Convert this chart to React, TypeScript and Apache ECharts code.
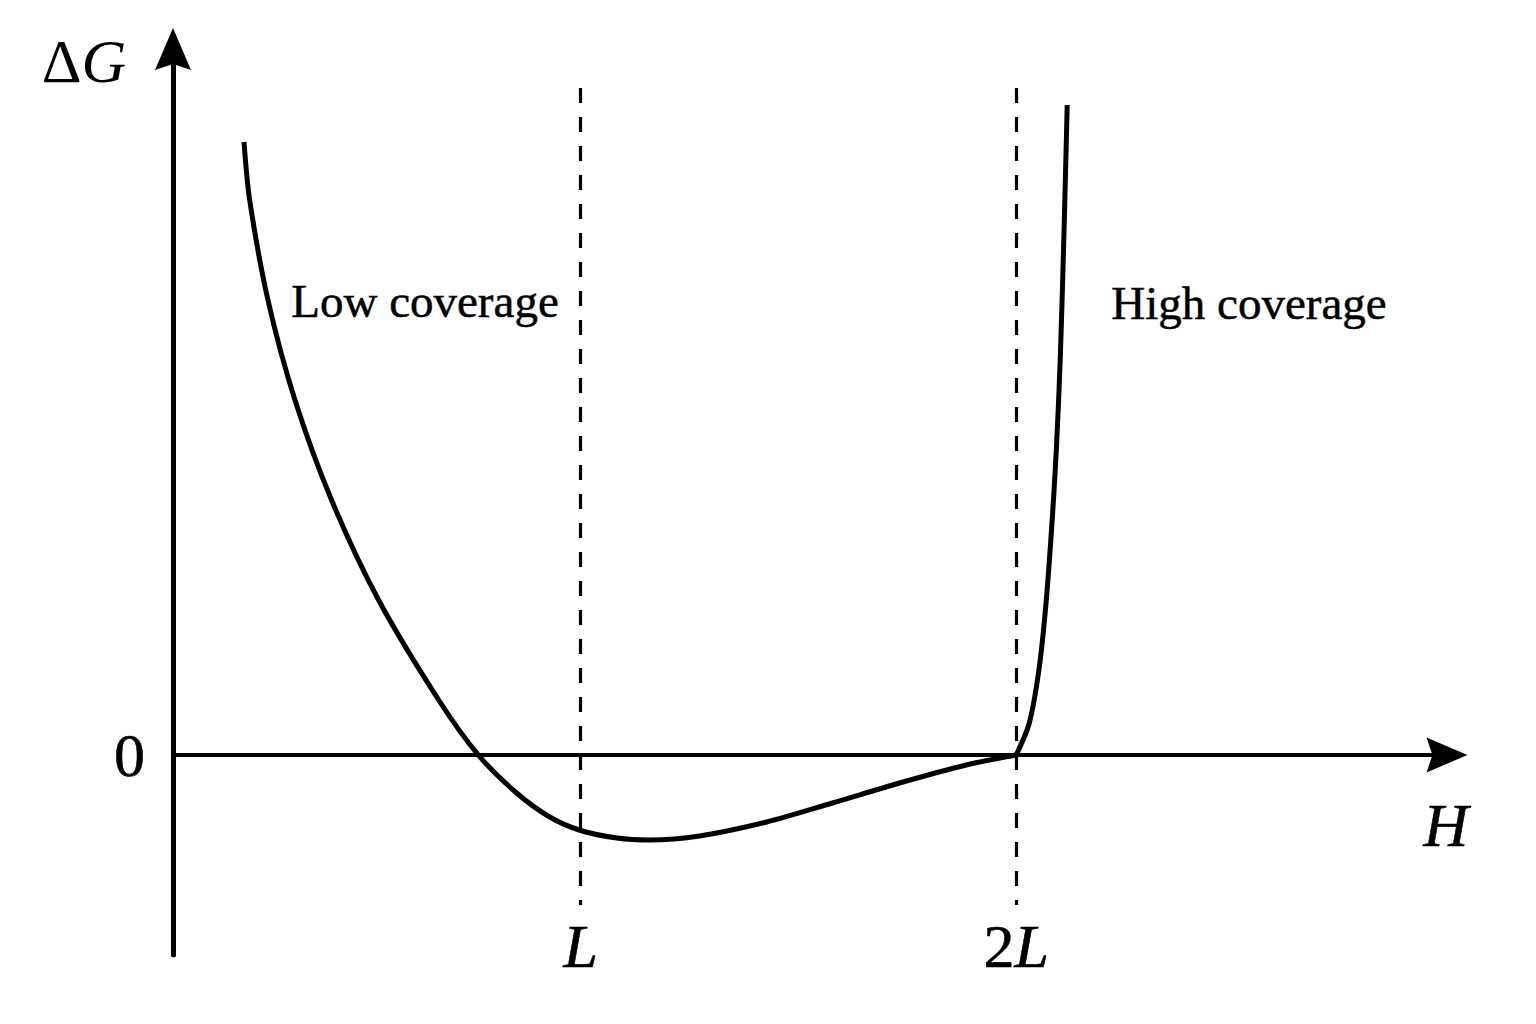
import React, { useEffect, useRef } from "react";
import * as echarts from "echarts";

// H measured in units of L, ΔG in arbitrary units (0 = axis)
const leftCurveH = [0.227, 0.24, 0.282, 0.344, 0.428, 0.536, 0.674, 0.765, 0.853, 0.929, 1.0, 1.083, 1.158, 1.273, 1.427, 1.578, 1.732, 1.885, 2.0];
const leftCurveG = [6.13, 5.55, 4.55, 3.55, 2.55, 1.55, 0.55, 0.0, -0.38, -0.62, -0.755, -0.83, -0.85, -0.81, -0.67, -0.48, -0.28, -0.1, 0.0];
const rightCurveH = [2.0, 2.03, 2.053, 2.069, 2.083, 2.092, 2.101, 2.11, 2.117];
const rightCurveG = [0.0, 0.32, 0.88, 1.55, 2.38, 3.05, 3.95, 5.28, 6.5];

const markerH = [1, 2];
const markerLabels = ["{i|L}", "{n|2}{i|L}"];
const dashTopG = 6.67;
const dashBottomG = -1.5;

const xMin = 0.064;
const xMax = 2.989;
const yMin = -2;
const yMax = 7.06;

const regionLabels = ["Low coverage", "High coverage"];

const FONT = "'Liberation Serif', 'Times New Roman', serif";

export default function App() {
  const ref = useRef<HTMLDivElement>(null);

  useEffect(() => {
    if (!ref.current) return;
    const chart = echarts.init(ref.current, null, { renderer: "svg" });

    const left = leftCurveH.map((h, i) => [h, leftCurveG[i]]);
    const right = rightCurveH.map((h, i) => [h, rightCurveG[i]]);

    const bold = { textBorderColor: "#000", textBorderWidth: 0.6 };

    const labelRich = {
      i: { fontFamily: FONT, fontSize: 62, fontStyle: "italic", color: "#000", ...bold },
      n: { fontFamily: FONT, fontSize: 62, color: "#000", ...bold },
    };

    const option: any = {
      animation: false,
      backgroundColor: "#ffffff",
      grid: { left: 173, right: 89, top: 49, bottom: 69, containLabel: false },
      xAxis: {
        type: "value",
        min: xMin,
        max: xMax,
        axisLine: {
          show: true,
          onZero: true,
          symbol: ["none", "path://M18,0 L36,42 L18,36 L0,42 Z"],
          symbolSize: [35, 41],
          lineStyle: { color: "#000", width: 4 },
        },
        axisTick: { show: false },
        axisLabel: { show: false },
        splitLine: { show: false },
      },
      yAxis: {
        type: "value",
        min: yMin,
        max: yMax,
        interval: 1,
        axisLine: {
          show: true,
          onZero: true,
          symbol: ["none", "path://M18,0 L36,42 L18,36 L0,42 Z"],
          symbolSize: [36, 42],
          lineStyle: { color: "#000", width: 5 },
        },
        axisTick: { show: false },
        axisLabel: {
          show: true,
          margin: 28,
          fontFamily: FONT,
          fontSize: 62,
          color: "#000",
          ...bold,
          showMinLabel: false,
          showMaxLabel: false,
          formatter: (v: number) => (v === 0 ? "0" : ""),
        },
        splitLine: { show: false },
      },
      series: [
        {
          type: "line",
          data: left,
          showSymbol: false,
          smooth: 0.3,
          lineStyle: { color: "#000", width: 5 },
          markLine: {
            silent: true,
            symbol: ["none", "none"],
            lineStyle: { color: "#000", width: 3.2, type: [15, 14] },
            label: {
              show: true,
              position: "end",
              distance: 10,
              rich: labelRich,
            },
            data: markerH.map((h, i) => [
              { coord: [h, dashTopG] },
              { coord: [h, dashBottomG], label: { formatter: markerLabels[i] } },
            ]),
          },
        },
        {
          type: "line",
          data: right,
          showSymbol: false,
          smooth: 0.3,
          lineStyle: { color: "#000", width: 5 },
        },
      ],
      graphic: [
        {
          type: "text",
          x: 84,
          y: 61,
          style: {
            text: "{a|Δ}{b|G}",
            align: "center",
            verticalAlign: "middle",
            rich: {
              a: { fontFamily: FONT, fontSize: 62, fill: "#000" },
              b: { fontFamily: FONT, fontSize: 62, fontStyle: "italic", fill: "#000" },
            },
          },
        },
        {
          type: "text",
          x: 1446,
          y: 825,
          style: {
            text: "H",
            fontFamily: FONT,
            fontSize: 62,
            fontStyle: "italic",
            fill: "#000",
            stroke: "#000",
            lineWidth: 0.6,
            align: "center",
            verticalAlign: "middle",
          },
        },
        {
          type: "text",
          x: 425,
          y: 301,
          style: {
            text: regionLabels[0],
            fontFamily: FONT,
            fontSize: 47,
            fill: "#000",
            stroke: "#000",
            lineWidth: 0.5,
            align: "center",
            verticalAlign: "middle",
          },
        },
        {
          type: "text",
          x: 1249,
          y: 303,
          style: {
            text: regionLabels[1],
            fontFamily: FONT,
            fontSize: 47,
            fill: "#000",
            stroke: "#000",
            lineWidth: 0.5,
            align: "center",
            verticalAlign: "middle",
          },
        },
      ],
    };

    chart.setOption(option);
    return () => chart.dispose();
  }, []);

  return (
    <div
      ref={ref}
      style={{ position: "fixed", left: 0, top: 0, width: 1536, height: 1024, background: "#fff" }}
    />
  );
}
